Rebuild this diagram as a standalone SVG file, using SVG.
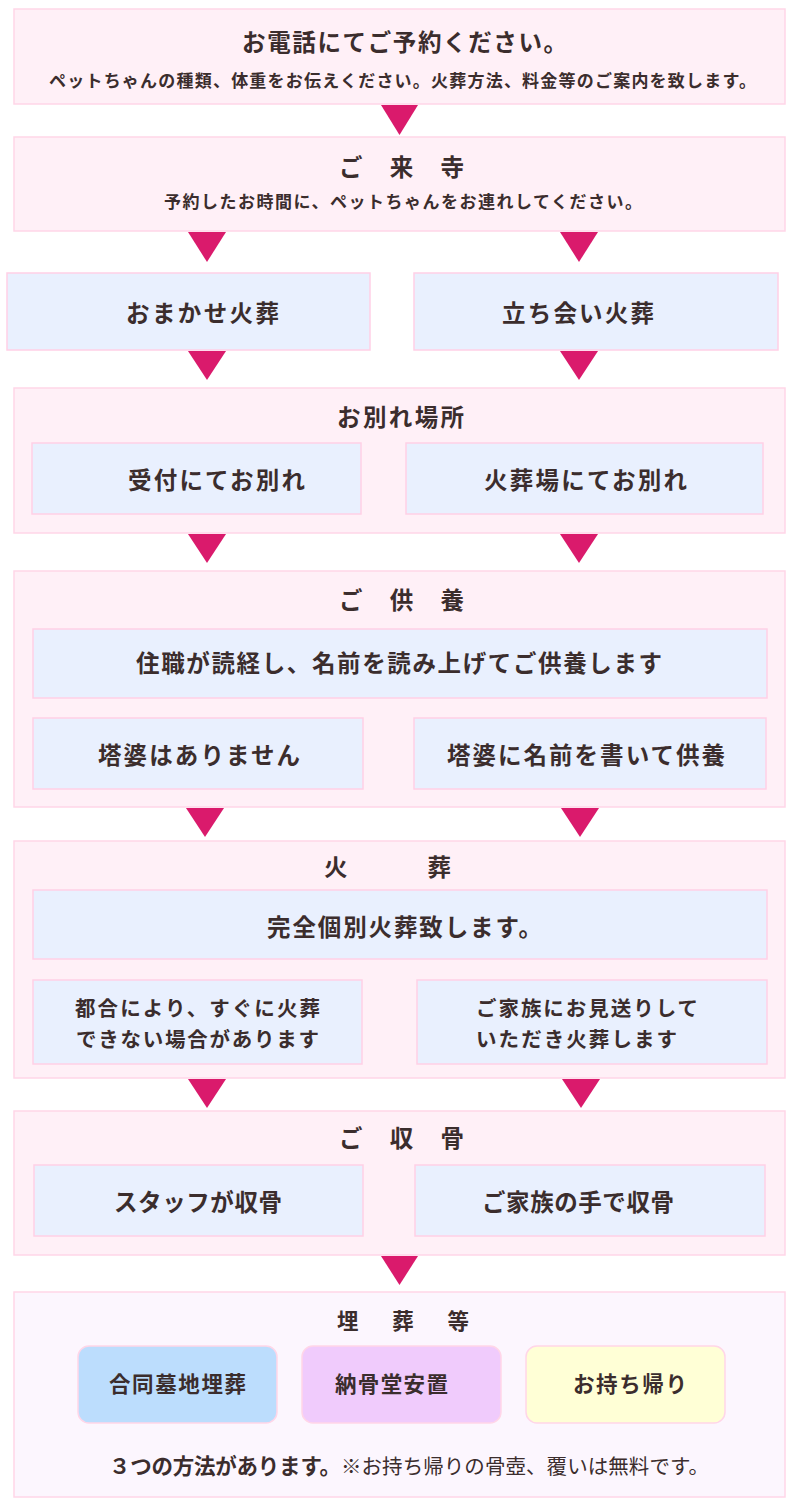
<svg xmlns="http://www.w3.org/2000/svg" width="800" height="1505" viewBox="0 0 800 1505">
<style>
.outer{fill:#FFF0F7;stroke:#FFD6E8;stroke-width:1.5}
.outer2{fill:#FCF6FE;stroke:#FFD6E8;stroke-width:1.5}
.inner{fill:#E9F0FE;stroke:#FFD0E6;stroke-width:1.5}
.arr{fill:#DA1A6C}
text{font-family:"Noto Sans CJK JP","Noto Sans",sans-serif;fill:#3B2D2D;font-weight:700}
.t{font-size:23.5px}
.s{font-size:17px}
.m{font-size:20.5px}
.b{font-size:21.5px}
.r{font-weight:400;font-size:20.5px}
</style>
<rect width="800" height="1505" fill="#FFFFFF"/>
<g id="connectors">
<polygon class="arr" points="381,105 418,105 399.5,135"/>
<polygon class="arr" points="188,232 226,232 207,262"/>
<polygon class="arr" points="560,232 598,232 579,262"/>
<polygon class="arr" points="188,351 226,351 207,380"/>
<polygon class="arr" points="560,351 598,351 579,380"/>
<polygon class="arr" points="188,534 226,534 207,563"/>
<polygon class="arr" points="560,534 598,534 579,563"/>
<polygon class="arr" points="186,808 224,808 205,837"/>
<polygon class="arr" points="561,808 599,808 580,837"/>
<polygon class="arr" points="188,1079 226,1079 207,1108"/>
<polygon class="arr" points="562,1079 600,1079 581,1108"/>
<polygon class="arr" points="381,1256 418,1256 399.5,1285"/>
</g>
<g id="n-phone">
<rect class="outer" x="14" y="9" width="771" height="95"/>
<text class="t" x="242" y="51" textLength="325" lengthAdjust="spacing">お電話にてご予約ください。</text>
<text class="s" x="49" y="86.5" textLength="707" lengthAdjust="spacing">ペットちゃんの種類、体重をお伝えください。火葬方法、料金等のご案内を致します。</text>
</g>
<g id="n-visit">
<rect class="outer" x="14" y="137" width="771" height="94"/>
<text class="t" x="339" y="176" textLength="125" lengthAdjust="spacing">ご　来　寺</text>
<text class="s" x="164" y="207.5" textLength="478" lengthAdjust="spacing">予約したお時間に、ペットちゃんをお連れしてください。</text>
</g>
<g id="n-omakase">
<rect class="inner" x="7" y="273" width="363" height="77"/>
<text class="t" x="126" y="321.5" textLength="153" lengthAdjust="spacing">おまかせ火葬</text>
</g>
<g id="n-tachiai">
<rect class="inner" x="414" y="273" width="364" height="77"/>
<text class="t" x="502" y="321.5" textLength="152" lengthAdjust="spacing">立ち会い火葬</text>
</g>
<g id="n-wakare">
<rect class="outer" x="14" y="388" width="771" height="145"/>
<text class="t" x="337" y="426" textLength="127" lengthAdjust="spacing">お別れ場所</text>
<rect class="inner" x="32" y="443" width="329" height="71"/>
<text class="t" x="128" y="488.5" textLength="177" lengthAdjust="spacing">受付にてお別れ</text>
<rect class="inner" x="406" y="443" width="357" height="71"/>
<text class="t" x="484" y="488.5" textLength="203" lengthAdjust="spacing">火葬場にてお別れ</text>
</g>
<g id="n-kuyou">
<rect class="outer" x="14" y="571" width="771" height="236"/>
<text class="t" x="339" y="609" textLength="125" lengthAdjust="spacing">ご　供　養</text>
<rect class="inner" x="33" y="629" width="734" height="69"/>
<text class="t" x="136" y="672" textLength="526" lengthAdjust="spacing">住職が読経し、名前を読み上げてご供養します</text>
<rect class="inner" x="33" y="718" width="330" height="71"/>
<text class="t" x="98" y="763.5" textLength="202" lengthAdjust="spacing">塔婆はありません</text>
<rect class="inner" x="414" y="718" width="352" height="71"/>
<text class="t" x="447" y="763.5" textLength="278" lengthAdjust="spacing">塔婆に名前を書いて供養</text>
</g>
<g id="n-kasou">
<rect class="outer" x="14" y="841" width="771" height="237"/>
<text class="t" x="324" y="876" textLength="127" lengthAdjust="spacing">火　　　葬</text>
<rect class="inner" x="33" y="890" width="734" height="69"/>
<text class="t" x="267" y="936" textLength="275" lengthAdjust="spacing">完全個別火葬致します。</text>
<rect class="inner" x="33" y="980" width="329" height="84"/>
<text class="m" x="75" y="1016" textLength="245" lengthAdjust="spacing">都合により、すぐに火葬</text>
<text class="m" x="76" y="1047" textLength="243" lengthAdjust="spacing">できない場合があります</text>
<rect class="inner" x="417" y="980" width="350" height="84"/>
<text class="m" x="476" y="1016" textLength="222" lengthAdjust="spacing">ご家族にお見送りして</text>
<text class="m" x="476" y="1047" textLength="201" lengthAdjust="spacing">いただき火葬します</text>
</g>
<g id="n-shukotsu">
<rect class="outer" x="14" y="1111" width="771" height="144"/>
<text class="t" x="339" y="1147" textLength="125" lengthAdjust="spacing">ご　収　骨</text>
<rect class="inner" x="34" y="1165" width="329" height="71"/>
<text class="t" x="114" y="1211" textLength="168" lengthAdjust="spacing">スタッフが収骨</text>
<rect class="inner" x="415" y="1165" width="350" height="71"/>
<text class="t" x="482" y="1211" textLength="192" lengthAdjust="spacing">ご家族の手で収骨</text>
</g>
<g id="n-maisou">
<rect class="outer2" x="14" y="1292" width="771" height="205"/>
<text class="b" x="337" y="1329" textLength="132" lengthAdjust="spacing">埋　葬　等</text>
<rect x="78" y="1346" width="199" height="77" rx="11" fill="#BCDDFD" stroke="#FFD6E8" stroke-width="1.5"/>
<text class="b" x="109" y="1392" textLength="137" lengthAdjust="spacing">合同墓地埋葬</text>
<rect x="302" y="1346" width="199" height="77" rx="11" fill="#F0CBFC" stroke="#FFD6E8" stroke-width="1.5"/>
<text class="b" x="335" y="1392" textLength="113" lengthAdjust="spacing">納骨堂安置</text>
<rect x="526" y="1346" width="199" height="77" rx="11" fill="#FFFFD6" stroke="#FFD6E8" stroke-width="1.5"/>
<text class="b" x="573" y="1392" textLength="114" lengthAdjust="spacing">お持ち帰り</text>
<text class="b" x="109" y="1473.5" textLength="232" lengthAdjust="spacing">３つの方法があります。</text>
<text class="r" x="341" y="1473.5" textLength="368" lengthAdjust="spacing">※お持ち帰りの骨壺、覆いは無料です。</text>
</g>
</svg>
